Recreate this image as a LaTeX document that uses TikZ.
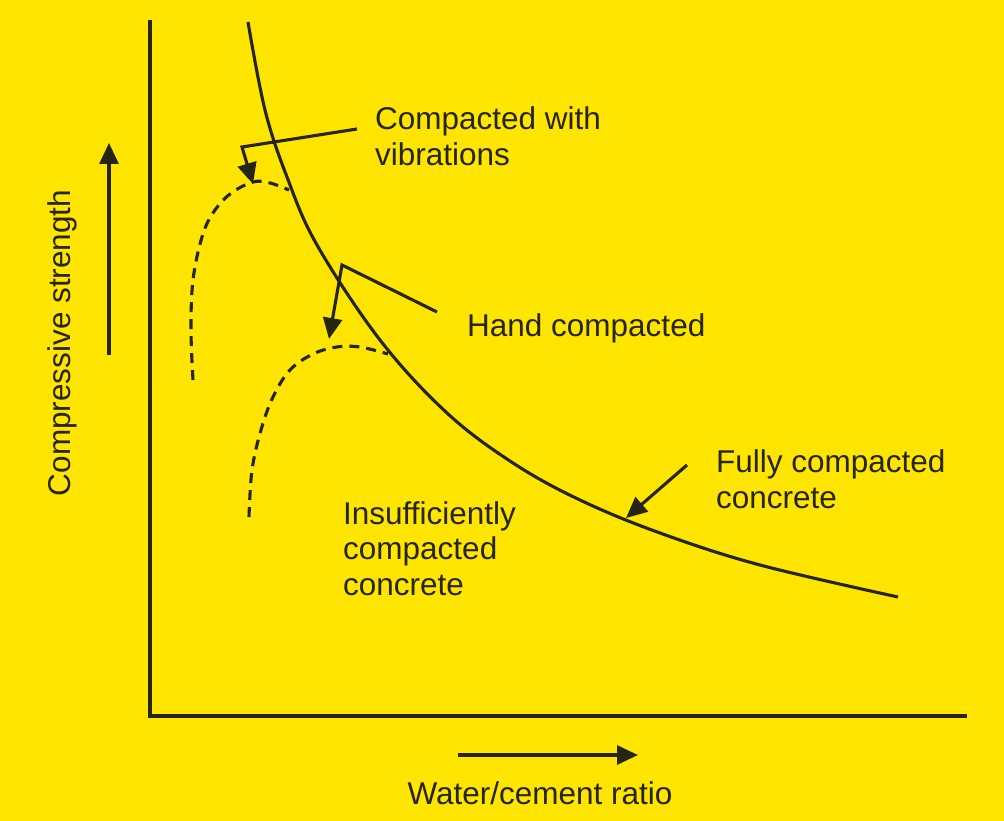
\documentclass[tikz,border=0pt]{standalone}
\usepackage{fontspec}
\setmainfont{Liberation Sans}
\usetikzlibrary{arrows.meta}
\definecolor{bgyellow}{RGB}{255,229,0}
\definecolor{ink}{RGB}{38,36,18}
\begin{document}
\begin{tikzpicture}[x=1pt,y=-1pt,
  ink line/.style={draw=ink, line width=3.1pt},
  axis line/.style={draw=ink, line width=3.4pt},
  dash curve/.style={draw=ink, line width=3.1pt, dash pattern=on 10pt off 7pt},
  pointer/.style={draw=ink, line width=3.1pt, -{Triangle[length=21pt,width=19pt]}},
  label/.style={font=\fontsize{31.5}{35.5}\selectfont, text=ink, inner sep=0pt, align=left, anchor=base west}]
\fill[bgyellow] (0,0) rectangle (1004,821);
\useasboundingbox (0,0) rectangle (1004,821);
% axes
\coordinate (ytop) at (150,20);
\coordinate (orig) at (150,716);
\coordinate (xend) at (967,716);
\draw[axis line] (ytop) -- (orig) -- (xend);
% axis direction arrows
\coordinate (ya) at (109,355);
\coordinate (yb) at (109,143);
\draw[pointer] (ya) -- (yb);
\coordinate (xa) at (458,755);
\coordinate (xb) at (638,755);
\draw[pointer] (xa) -- (xb);
% main curve
\draw[ink line] plot[smooth, tension=0.6] coordinates {(248,22) (265,110) (287,177) (317,245) (380,340) (447,413) (513,463) (580,500) (660,533) (760,565) (898,597)};
% dashed curves
\draw[dash curve] plot[smooth, tension=0.6] coordinates {(193,380) (191,330) (193,280) (202,237) (213,213) (230,194) (253,182) (270,183) (289,190)};
\draw[dash curve] plot[smooth, tension=0.6] coordinates {(249,517) (252,470) (261,430) (273,397) (290,370) (313,354) (337,347) (360,347) (388,354)};
% labels (base anchor = baseline of the last line)
\node[label] (vib) at (375,165.5) {Compacted with\\vibrations};
\node[label] (hand) at (467,336) {Hand compacted};
\node[label] (full) at (716,508) {Fully compacted\\concrete};
\node[label] (insuf) at (343,595) {Insufficiently\\compacted\\concrete};
\node[label, anchor=base, rotate=90] (ylab) at (70,343) {Compressive strength};
\node[label, anchor=base] (xlab) at (540,804) {Water/cement ratio};
% pointers
\coordinate (v1) at (357,129);
\coordinate (v2) at (242,147);
\coordinate (v3) at (253,184);
\draw[pointer] (v1) -- (v2) -- (v3);
\coordinate (h1) at (437,312);
\coordinate (h2) at (342,265);
\coordinate (h3) at (329,339);
\draw[pointer] (h1) -- (h2) -- (h3);
\coordinate (f1) at (687,465);
\coordinate (f2) at (626,518);
\draw[pointer] (f1) -- (f2);
\end{tikzpicture}
\end{document}
